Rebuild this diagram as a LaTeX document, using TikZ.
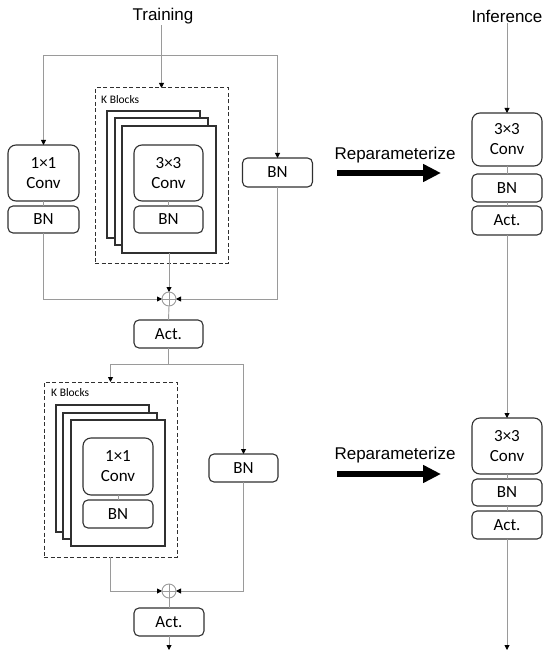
\documentclass[tikz,border=0pt]{standalone}
\usepackage{fontspec}
\setmainfont{Carlito}
\newfontfamily\arialf{Liberation Sans}
\usetikzlibrary{arrows.meta}
\definecolor{linegray}{HTML}{9A9A9A}
\definecolor{boxline}{HTML}{303030}
\tikzset{
  blk/.style={draw=boxline, line width=1.1pt, rounded corners=5pt, fill=white,
    inner sep=0pt, outer sep=0pt, align=center,
    font=\fontsize{17}{20}\selectfont},
  convbox/.style={blk, rounded corners=8pt},
  stackbox/.style={draw=boxline, line width=1.1pt, fill=white, inner sep=0pt, outer sep=0pt},
  kbox/.style={draw=boxline, line width=1pt, dashed, dash pattern=on 4pt off 2.5pt, inner sep=0pt, outer sep=0pt},
  conn/.style={draw=linegray, line width=0.9pt},
  arr/.style={conn, -{Triangle[length=5pt,width=5pt,fill=black,color=black]}},
  sumnode/.style={circle, draw=linegray, line width=0.9pt, minimum size=14pt, inner sep=0pt, outer sep=0pt,
    path picture={\draw[linegray, line width=0.8pt] (path picture bounding box.north) -- (path picture bounding box.south)
      (path picture bounding box.west) -- (path picture bounding box.east);}},
  title/.style={font=\arialf\fontsize{17}{20}\selectfont, inner sep=1pt},
  klabel/.style={font=\fontsize{11.5}{13}\selectfont, anchor=west, inner sep=0pt},
  bigarrow/.style={line width=6.5pt, -{Triangle[length=18pt,width=17pt]}},
}
\begin{document}
\begin{tikzpicture}[x=1pt,y=-1pt]
\useasboundingbox (0,0) rectangle (550,660);

% ---------- titles ----------
\node[title] (train) at (163,16) {Training};
\node[title] (inf) at (507,16) {Inference};

% ---------- top training block ----------
\node[convbox, minimum width=71pt, minimum height=56pt] (c1) at (43.5,173) {1×1\\Conv};
\node[blk, minimum width=71pt, minimum height=27pt] (bn1) at (43.5,219.5) {BN};

\node[kbox, minimum width=133pt, minimum height=175pt] (k1) at (161.5,175.5) {};
\node[klabel] (k1lab) at (101,100) {K Blocks};
\node[stackbox, minimum width=93pt, minimum height=127pt] (s1a) at (153.5,174.5) {};
\node[stackbox, minimum width=93pt, minimum height=127pt] (s1b) at (161.5,181.5) {};
\node[stackbox, minimum width=94pt, minimum height=127pt] (s1c) at (169,189.5) {};
\node[convbox, minimum width=69pt, minimum height=56pt] (c3) at (168.5,173) {3×3\\Conv};
\node[blk, minimum width=69pt, minimum height=27pt] (bn3) at (168.5,219.5) {BN};

\node[blk, minimum width=70pt, minimum height=29pt] (bnr) at (277.5,172.5) {BN};

\node[sumnode] (sum1) at (169,299) {};
\node[blk, minimum width=69pt, minimum height=28pt] (act1) at (168.5,334) {Act.};

\coordinate (top) at (161.5,55);
\draw[arr] (k1.north |- train.south) -- (k1.north);
\draw[arr] (top) -| (c1.north);
\draw[arr] (top) -| (bnr.north);
\draw[conn] (c1.south) -- (bn1.north);
\draw[conn] (c3.south) -- (bn3.north);
\draw[arr] (bn1.south) |- (sum1.west);
\draw[arr] (bnr.south) |- (sum1.east);
\draw[arr] (s1c.south) -- (sum1.north);
\draw[conn] (sum1.south) -- (act1.north);

% ---------- bottom training block ----------
\coordinate (split) at (168.5,364);
\node[kbox, minimum width=133pt, minimum height=175pt] (k2) at (110.5,469.5) {};
\node[klabel] (k2lab) at (51,393) {K Blocks};
\node[stackbox, minimum width=93pt, minimum height=127pt] (s2a) at (102.5,468.5) {};
\node[stackbox, minimum width=94pt, minimum height=126pt] (s2b) at (110,476) {};
\node[stackbox, minimum width=94pt, minimum height=126pt] (s2c) at (118,483) {};
\node[convbox, minimum width=70pt, minimum height=57pt] (c12) at (118,466.5) {1×1\\Conv};
\node[blk, minimum width=70pt, minimum height=28pt] (bn12) at (118,514) {BN};

\node[blk, minimum width=69pt, minimum height=28pt] (bnr2) at (243.5,468) {BN};

\node[sumnode] (sum2) at (169,591) {};
\node[blk, minimum width=70pt, minimum height=28pt] (act2) at (169,622) {Act.};
\coordinate (out2) at (169,650);

\draw[conn] (act1.south) -- (split);
\draw[arr] (split) -| (k2.north);
\draw[arr] (split) -| (bnr2.north);
\draw[conn] (c12.south) -- (bn12.north);
\draw[arr] (k2.south) |- (sum2.west);
\draw[arr] (bnr2.south) |- (sum2.east);
\draw[conn] (sum2.south) -- (act2.north);
\draw[arr] (act2.south) -- (out2);

% ---------- inference column ----------
\node[convbox, minimum width=70pt, minimum height=53pt] (rc1) at (507,139.5) {3×3\\Conv};
\node[blk, minimum width=70pt, minimum height=28pt] (rbn1) at (507,188) {BN};
\node[blk, minimum width=70pt, minimum height=29pt] (ract1) at (507,220.5) {Act.};
\node[convbox, minimum width=70pt, minimum height=56pt] (rc2) at (507,446) {3×3\\Conv};
\node[blk, minimum width=70pt, minimum height=27pt] (rbn2) at (507,492.5) {BN};
\node[blk, minimum width=70pt, minimum height=28pt] (ract2) at (507,525) {Act.};
\coordinate (rout) at (507,650);

\draw[arr] (inf.south) -- (rc1.north);
\draw[conn] (rc1.south) -- (rbn1.north);
\draw[conn] (rbn1.south) -- (ract1.north);
\draw[arr] (ract1.south) -- (rc2.north);
\draw[conn] (rc2.south) -- (rbn2.north);
\draw[conn] (rbn2.south) -- (ract2.north);
\draw[arr] (ract2.south) -- (rout);

% ---------- reparameterize ----------
\node[title] (rp1) at (395,155) {Reparameterize};
\coordinate (a1s) at (337,173);
\coordinate (a1e) at (441,173);
\draw[bigarrow] (a1s) -- (a1e);
\node[title] (rp2) at (395,455) {Reparameterize};
\coordinate (a2s) at (337,474);
\coordinate (a2e) at (441,474);
\draw[bigarrow] (a2s) -- (a2e);
\end{tikzpicture}
\end{document}
